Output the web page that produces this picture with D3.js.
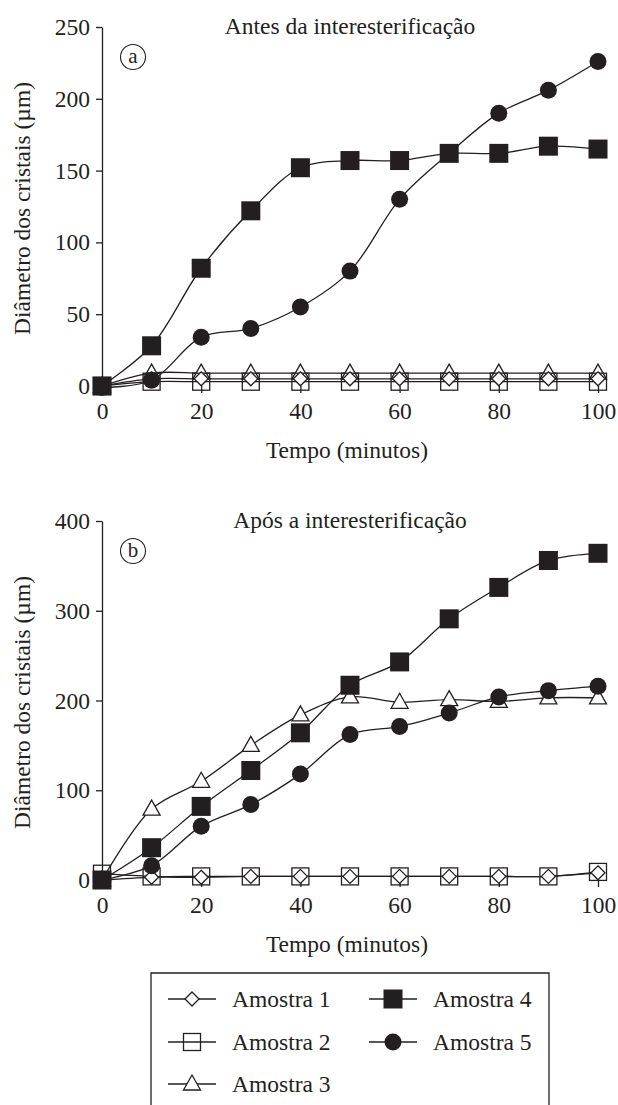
<!DOCTYPE html>
<html>
<head>
<meta charset="utf-8">
<script src="https://cdn.jsdelivr.net/npm/d3@7"></script>
<style>
  body { margin: 0; background: #fff; }
  text { font-family: "Liberation Serif", "DejaVu Serif", serif; fill: #231f20; }
</style>
</head>
<body>
<div id="place"></div>
<script>
// tempo (minutos)
const tempo = [0, 10, 20, 30, 40, 50, 60, 70, 80, 90, 100];

// (a) antes da interesterificacao
const antes1 = [0, 5, 5, 5, 5, 5, 5, 5, 5, 5, 5];
const antes2 = [0, 3, 3, 3, 3, 3, 3, 3, 3, 3, 3];
const antes3 = [0, 9, 9, 9, 9, 9, 9, 9, 9, 9, 9];
const antes4 = [0, 28, 82, 122, 152, 157, 157, 162, 162, 167, 165];
const antes5 = [-1, 4, 34, 40, 55, 80, 130, 162, 190, 206, 226];

// (b) apos a interesterificacao
const apos1 = [0, 3, 3, 4, 4, 4, 4, 4, 4, 4, 8];
const apos2 = [7, 4, 4, 4, 4, 4, 4, 4, 4, 4, 9];
const apos3 = [0, 79, 110, 150, 184, 204, 198, 201, 199, 203, 203];
const apos4 = [0, 36, 82, 122, 164, 217, 243, 291, 326, 356, 364];
const apos5 = [0, 16, 60, 84, 118, 162, 171, 186, 204, 211, 216];

const nomes = ["Amostra 1", "Amostra 2", "Amostra 3", "Amostra 4", "Amostra 5"];
const xTicks = [0, 20, 40, 60, 80, 100];
const yTicksA = [0, 50, 100, 150, 200, 250];
const yTicksB = [0, 100, 200, 300, 400];

const cor = "#231f20";
const fs = 23.5;
const W = 618, H = 1105;

const svg = d3.select("#place").append("svg")
    .attr("width", W)
    .attr("height", H);

const x = d3.scaleLinear().domain([0, 100]).range([102, 598]);

// desenha um marcador conforme a amostra
function marcador(g, tipo) {
    if (tipo == 0) {
        g.append("path").attr("d", "M0,-7L7,0L0,7L-7,0Z")
            .attr("fill", "#fff").attr("stroke", cor).attr("stroke-width", 1.3);
    } else if (tipo == 1) {
        g.append("rect").attr("x", -8.5).attr("y", -8.5).attr("width", 17).attr("height", 17)
            .attr("fill", "none").attr("stroke", cor).attr("stroke-width", 1.3);
    } else if (tipo == 2) {
        g.append("path").attr("d", "M0,-9L8.5,6L-8.5,6Z")
            .attr("fill", "#fff").attr("stroke", cor).attr("stroke-width", 1.3);
    } else if (tipo == 3) {
        g.append("rect").attr("x", -9.5).attr("y", -9.5).attr("width", 19).attr("height", 19)
            .attr("fill", cor);
    } else {
        g.append("circle").attr("r", 8.5).attr("fill", cor);
    }
}

function grafico(series, yMax, yTicks, y0, y1, titulo, letra) {
    const y = d3.scaleLinear().domain([0, yMax]).range([y0, y1]);
    const g = svg.append("g");

    // eixo y
    const ay = g.append("g")
        .attr("transform", "translate(" + x(0) + ",0)")
        .call(d3.axisLeft(y).tickValues(yTicks).tickSize(6).tickSizeOuter(0).tickPadding(6));
    ay.select(".domain").attr("stroke", cor).attr("stroke-width", 1.3);
    ay.selectAll(".tick line").attr("stroke", cor).attr("stroke-width", 1.3);
    ay.selectAll(".tick text").attr("font-size", fs).attr("font-family", null);

    // eixo x (sem linha)
    const ax = g.append("g")
        .attr("transform", "translate(0," + y(0) + ")")
        .call(d3.axisBottom(x).tickValues(xTicks).tickSize(7).tickPadding(9));
    ax.select(".domain").remove();
    ax.selectAll(".tick line").attr("stroke", cor).attr("stroke-width", 1.3);
    ax.selectAll(".tick text").attr("font-size", fs).attr("font-family", null);

    const linha = d3.line()
        .x((d, i) => x(tempo[i]))
        .y(d => y(d))
        .curve(d3.curveCatmullRom);

    const ordem = [2, 1, 0, 4, 3];
    ordem.forEach(k => {
        g.append("path")
            .attr("d", linha(series[k]))
            .attr("fill", "none")
            .attr("stroke", cor)
            .attr("stroke-width", 1.3);
    });
    ordem.forEach(k => {
        series[k].forEach((v, i) => {
            const m = g.append("g").attr("transform", "translate(" + x(tempo[i]) + "," + y(v) + ")");
            marcador(m, k);
        });
    });

    g.append("text")
        .attr("x", 350).attr("y", y1 + 7)
        .attr("text-anchor", "middle")
        .attr("font-size", fs)
        .text(titulo);

    g.append("circle")
        .attr("cx", 133).attr("cy", y1 + 30).attr("r", 12.5)
        .attr("fill", "none").attr("stroke", cor).attr("stroke-width", 1.1);
    g.append("text")
        .attr("x", 133).attr("y", y1 + 36)
        .attr("text-anchor", "middle")
        .attr("font-size", 21)
        .text(letra);

    g.append("text")
        .attr("x", 347).attr("y", y0 + 72)
        .attr("text-anchor", "middle")
        .attr("font-size", fs)
        .text("Tempo (minutos)");

    g.append("text")
        .attr("transform", "translate(30," + ((y0 + y1) / 2 + 2) + ") rotate(-90)")
        .attr("text-anchor", "middle")
        .attr("font-size", fs)
        .text("Diâmetro dos cristais (µm)");
}

grafico([antes1, antes2, antes3, antes4, antes5], 250, yTicksA, 386, 27,
    "Antes da interesterificação", "a");
grafico([apos1, apos2, apos3, apos4, apos5], 400, yTicksB, 880, 521,
    "Após a interesterificação", "b");

// legenda
const leg = svg.append("g");
leg.append("path")
    .attr("d", "M151,1110V973H549V1110")
    .attr("fill", "none")
    .attr("stroke", cor)
    .attr("stroke-width", 1.3);

const posLeg = [[192, 999], [192, 1042], [192, 1084], [393, 999], [393, 1042]];
nomes.forEach((n, k) => {
    const p = posLeg[k];
    leg.append("line")
        .attr("x1", p[0] - 24).attr("x2", p[0] + 24)
        .attr("y1", p[1]).attr("y2", p[1])
        .attr("stroke", cor).attr("stroke-width", 1.3);
    const m = leg.append("g").attr("transform", "translate(" + p[0] + "," + p[1] + ")");
    marcador(m, k);
    leg.append("text")
        .attr("x", p[0] + 40).attr("y", p[1] + 8)
        .attr("font-size", fs)
        .text(n);
});
</script>
</body>
</html>
